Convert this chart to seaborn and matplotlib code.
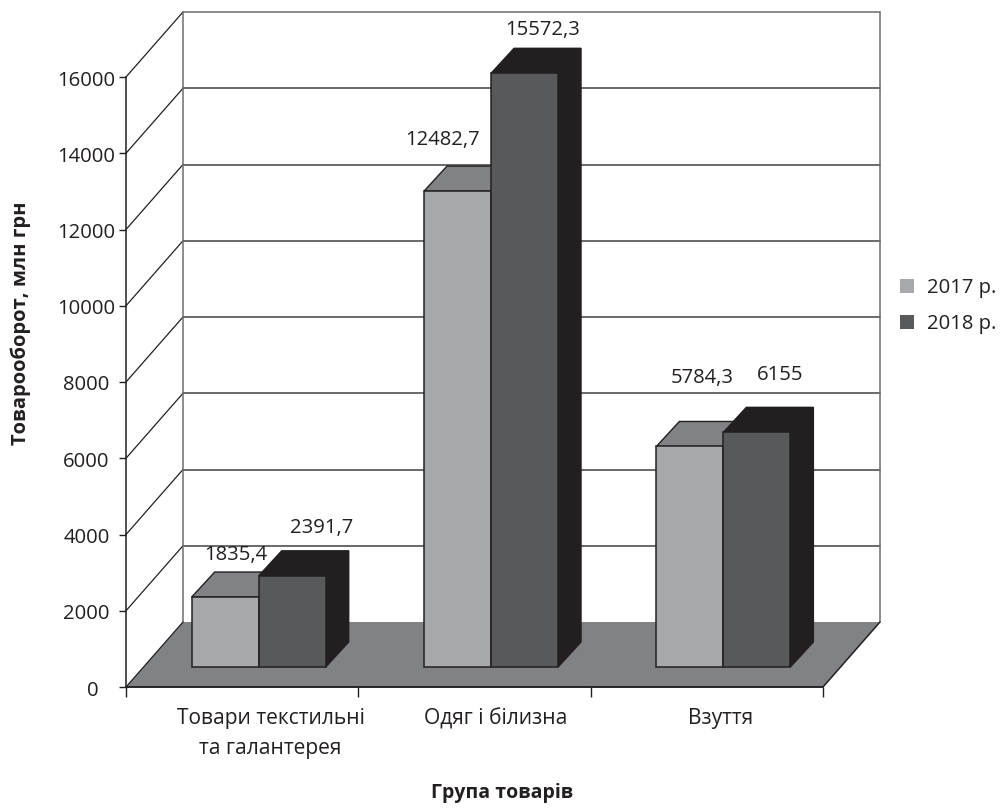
import matplotlib
matplotlib.use("Agg")
import matplotlib.pyplot as plt
from matplotlib.patches import Polygon
from matplotlib.transforms import ScaledTranslation
import pandas as pd
import seaborn as sns

# Trade turnover by product group
groups = ["Товари текстильні\nта галантерея", "Одяг і білизна", "Взуття"]
years = ["2017 р.", "2018 р."]
values_2017 = [1835.4, 12482.7, 5784.3]
values_2018 = [2391.7, 15572.3, 6155]
y_ticks = [0, 2000, 4000, 6000, 8000, 10000, 12000, 14000, 16000]

# Value label offsets from each bar's top centre, in pixels
label_dx = [[10.5, -15.5, 12.5], [29, 18, 23.5]]
label_dy = [[42, 51, 68.5], [48, 43, 57]]

INK = "#231f20"
FRONT = ["#a7a9ac", "#58595b"]
TOP = ["#808285", "#231f20"]
FLOOR = "#808285"
WALL_LINE = "#6d6e71"

W, H = 1004, 808
PX_X = 232.33           # pixels per category
PX_Y = 610 / 16000      # pixels per value unit
FIRST_CENTRE = 258.7    # pixel position of the first category

sns.set_theme(style="white", rc={"font.family": ["Open Sans", "DejaVu Sans"]})
plt.rcParams["text.color"] = INK

fig = plt.figure(figsize=(W / 100, H / 100), dpi=100, facecolor="white")
ax = fig.add_axes([126 / W, 1 - 687 / H, 697 / W, 610 / H])
ax.patch.set_alpha(0)

df = pd.DataFrame({
    "group": groups * 2,
    "year": [years[0]] * 3 + [years[1]] * 3,
    "value": values_2017 + values_2018,
})

sns.barplot(
    data=df, x="group", y="value", hue="year", hue_order=years,
    palette=FRONT, saturation=1, width=134 / PX_X, gap=0, dodge=True,
    edgecolor=INK, linewidth=1.1, ax=ax, zorder=3,
)


def px_to_x(px):
    return (px - FIRST_CENTRE) / PX_X


xmin, xmax = px_to_x(126), px_to_x(823)
ax.set_xlim(xmin, xmax)
ax.set_ylim(0, 16000)

# Bars stand on the floor, lifted from the front axis edge
lift = 20 / PX_Y

# Depth of the chart box and of the bars, converted to data units
box_dx, box_dy = 57 / PX_X, 65 / PX_Y
bar_dx, bar_dy = 23 / PX_X, 25 / PX_Y

# Floor, side wall and back wall
ax.add_patch(Polygon(
    [(xmin, 0), (xmin + box_dx, box_dy), (xmax + box_dx, box_dy), (xmax, 0)],
    closed=True, facecolor=FLOOR, edgecolor="none", clip_on=False, zorder=1,
))
ax.plot([xmin, xmax, xmax + box_dx], [0, 0, box_dy], color=INK, lw=1.1,
        clip_on=False, zorder=2)
ax.plot([xmin, xmin + box_dx], [0, box_dy], color=INK, lw=0.9, clip_on=False, zorder=2)
for v in y_ticks[1:]:
    ax.plot([xmin, xmin + box_dx], [v, v + box_dy], color=INK, lw=0.9,
            clip_on=False, zorder=0.5)
    ax.plot([xmin + box_dx, xmax + box_dx], [v + box_dy, v + box_dy],
            color=WALL_LINE if v == y_ticks[-1] else "#414042", lw=1.1,
            clip_on=False, zorder=0.5)
ax.plot([xmin + box_dx] * 2, [box_dy, 16000 + box_dy], color=WALL_LINE, lw=1.1,
        clip_on=False, zorder=0.5)
ax.plot([xmax + box_dx] * 2, [box_dy, 16000 + box_dy], color=WALL_LINE, lw=1.1,
        clip_on=False, zorder=0.5)

# Top and side faces of each bar, extruded from the drawn fronts
for s, container in enumerate(ax.containers):
    for i, bar in enumerate(container):
        bar.set_y(lift)
        bar.set_clip_on(False)
        bar.set_zorder(3 + 2 * s)
        x0, x1 = bar.get_x(), bar.get_x() + bar.get_width()
        y0, y1 = bar.get_y(), bar.get_y() + bar.get_height()
        ax.add_patch(Polygon(
            [(x0, y1), (x0 + bar_dx, y1 + bar_dy), (x1 + bar_dx, y1 + bar_dy), (x1, y1)],
            closed=True, facecolor=TOP[s], edgecolor=INK, lw=1.0,
            clip_on=False, zorder=2 + 2 * s,
        ))
        ax.add_patch(Polygon(
            [(x1, y0), (x1 + bar_dx, y0 + bar_dy), (x1 + bar_dx, y1 + bar_dy), (x1, y1)],
            closed=True, facecolor=TOP[s], edgecolor=INK, lw=1.0,
            clip_on=False, zorder=2 + 2 * s,
        ))
        value = (values_2017, values_2018)[s][i]
        ax.annotate(
            str(value).replace(".", ","), xy=((x0 + x1) / 2, y1),
            xytext=(label_dx[s][i] * 0.72, label_dy[s][i] * 0.72),
            textcoords="offset points", ha="center", va="center",
            fontsize=14.6, color=INK, zorder=10, annotation_clip=False,
        )

# Axes, ticks and labels
sns.despine(ax=ax, top=True, right=True)
for side in ("left", "bottom"):
    ax.spines[side].set_color(INK)
    ax.spines[side].set_linewidth(1.1)
    ax.spines[side].set_zorder(2.5)

ax.set_yticks(y_ticks)
ax.tick_params(axis="y", left=True, length=5, width=1, color=INK, pad=23.4,
               labelsize=14.6, labelcolor=INK)
for value, lab in zip(y_ticks, ax.get_yticklabels()):
    lab.set_ha("center")
    nudge = 6.5 if value == 0 else 0
    lab.set_transform(lab.get_transform()
                      + ScaledTranslation(nudge / 100, -1 / 100, fig.dpi_scale_trans))

ax.set_xticks([xmin + k * (xmax - xmin) / 3 for k in range(4)])
ax.set_xticklabels([])
ax.tick_params(axis="x", which="major", bottom=True, length=7, width=1, color=INK)
ax.set_xticks([px_to_x(270.5), px_to_x(495.5), px_to_x(720.5)],
              labels=groups, minor=True)
ax.tick_params(axis="x", which="minor", bottom=False, length=0, pad=15,
               labelsize=15.1, labelcolor=INK)
for lab in ax.get_xticklabels(minor=True):
    lab.set_linespacing(1.6)

ax.set_xlabel("Група товарів", fontsize=14, fontweight="bold", color=INK)
ax.xaxis.set_label_coords((502 - 126) / 697, (687 - 793) / 610)
ax.xaxis.label.set_va("center")
ax.set_ylabel("Товарооборот, млн грн", fontsize=14.5, fontweight="bold", color=INK)
ax.yaxis.set_label_coords((21 - 126) / 697, (687 - 323) / 610)
ax.yaxis.label.set_va("center")

# Legend to the right of the chart box
sns.move_legend(
    ax, loc="center left", bbox_to_anchor=((900 - 126) / 697, (687 - 306) / 610),
    frameon=False, title=None, fontsize=14.6, handlelength=0.69, handleheight=0.69,
    handletextpad=0.64, labelspacing=0.8, borderpad=0, borderaxespad=0,
)
for handle in ax.get_legend().get_patches():
    handle.set_edgecolor("none")

fig.savefig("out.png", dpi=100)
